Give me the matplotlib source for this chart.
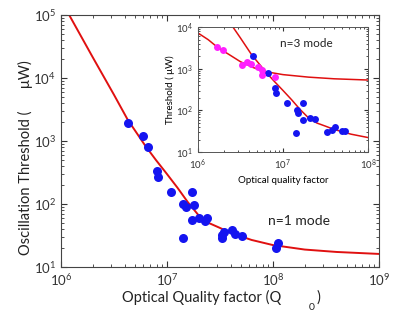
import numpy as np
import matplotlib
matplotlib.use("Agg")
import matplotlib.pyplot as plt

plt.rcParams['font.family'] = ['Lato', 'DejaVu Sans']
plt.rcParams['mathtext.fontset'] = 'custom'
plt.rcParams['mathtext.rm'] = 'Lato'

# n=1 mode, main panel measurements
q_main = [4.3e6, 5.9e6, 6.6e6, 8.05e6, 8.2e6, 1.09e7, 1.72e7, 1.42e7, 1.51e7, 1.8e7,
          1.72e7, 2.0e7, 2.38e7, 2.28e7, 1.42e7, 3.3e7, 3.3e7, 3.45e7, 4.1e7, 4.38e7,
          5.1e7, 1.11e8, 1.07e8]
t_main = [1930, 1200, 800, 334, 270, 155, 155, 100, 90, 96,
          56, 60, 60, 54, 29, 32, 29, 36, 39, 33,
          31, 24, 20]

# theory curve for n=1
q_fit1 = [1.2e6, 2.0e6, 3.16e6, 4.27e6, 6.3e6, 7.9e6, 1e7, 1.26e7, 1.58e7, 2e7,
          2.5e7, 3.16e7, 4e7, 6.3e7, 1e8, 2e8, 4e8, 1e9]
t_fit1 = [1e5, 21400, 5500, 2190, 832, 500, 302, 182, 107, 66,
          50, 42, 35, 27, 22.4, 19, 17.4, 16.2]

# inset: n=1 (blue) and n=3 (magenta)
q_in1 = [4.44e6, 6.67e6, 8.05e6, 8.28e6, 1.11e7, 1.72e7, 1.46e7, 1.5e7, 1.72e7, 2.08e7,
         2.38e7, 1.42e7, 3.3e7, 3.77e7, 4.09e7, 4.94e7, 5.36e7]
t_in1 = [2005, 783, 343, 260, 150, 150, 102, 86, 58, 65,
         62, 29, 30, 34, 40, 32, 32]
q_in3 = [1.67e6, 1.97e6, 3.3e6, 3.77e6, 4.21e6, 5.08e6, 5.66e6, 5.66e6, 8.05e6]
t_in3 = [3300, 2790, 1220, 1440, 1290, 1090, 925, 703, 630]

# theory curve for n=3
q_fit3 = [1e6, 1.32e6, 1.74e6, 2.29e6, 3.16e6, 4.47e6, 6.3e6, 1e7, 2e7, 4e7, 1e8]
t_fit3 = [7240, 5000, 3160, 2240, 1480, 1070, 850, 724, 630, 575, 537]

red = '#e01010'
blue = '#1414f0'
mag = '#ff20ff'

fig = plt.figure(figsize=(4.14, 3.15), dpi=100)

ax = fig.add_axes([0.147, 0.152, 0.768, 0.8])
ax.plot(q_fit1, t_fit1, color=red, lw=1.4, zorder=2)
ax.plot(q_main, t_main, 'o', color=blue, ms=6.5, mec='none', zorder=3)
ax.set_xscale('log')
ax.set_yscale('log')
ax.set_xlim(1e6, 1e9)
ax.set_ylim(10, 1e5)
ax.tick_params(which='both', direction='in', top=True, right=True, labelsize=9.5, colors='#333333')
ax.tick_params(which='major', length=4)
ax.tick_params(which='minor', length=2)
for s in ax.spines.values():
    s.set_color('#444444')
    s.set_linewidth(0.8)
ax.text(3.5e8, 54, 'n=1 mode', fontsize=10, ha='right', va='center', color='#222222')

fig.text(25 / 414, 1 - 158 / 315, 'Oscillation Threshold (      \u03bcW)', rotation=90,
         ha='center', va='center', fontsize=10.5, color='#222222')
fig.text(202 / 414, 1 - 297 / 315, 'Optical Quality factor (Q', ha='center', va='center',
         fontsize=10.5, color='#222222')
fig.text(312 / 414, 1 - 307 / 315, '0', ha='center', va='center', fontsize=7.5, color='#222222')
fig.text(318 / 414, 1 - 298 / 315, ')', ha='center', va='center', fontsize=10.5, color='#222222')

# inset
ins = fig.add_axes([0.478, 0.517, 0.411, 0.397])
ins.plot(q_fit1, t_fit1, color=red, lw=1.1, zorder=2)
ins.plot(q_fit3, t_fit3, color=red, lw=1.1, zorder=2)
ins.plot(q_in1, t_in1, 'o', color=blue, ms=5, mec='none', zorder=3)
ins.plot(q_in3, t_in3, 'o', color=mag, ms=5, mec='none', zorder=4)
ins.set_xscale('log')
ins.set_yscale('log')
ins.set_xlim(1e6, 1e8)
ins.set_ylim(10, 1e4)
ins.tick_params(which='both', direction='in', top=True, right=True, labelsize=7, colors='#333333')
ins.tick_params(which='major', length=3)
ins.tick_params(which='minor', length=1.5)
for s in ins.spines.values():
    s.set_color('#555555')
    s.set_linewidth(0.7)
ins.text(1.9e7, 4000, 'n=3 mode', fontsize=8.5, ha='center', va='center', color='#222222')
ins.set_xlabel('Optical quality factor', fontsize=7, labelpad=3)
ins.set_ylabel('Threshold ( \u03bcW)', fontsize=7, labelpad=1)

fig.savefig('out.png', dpi=100)
